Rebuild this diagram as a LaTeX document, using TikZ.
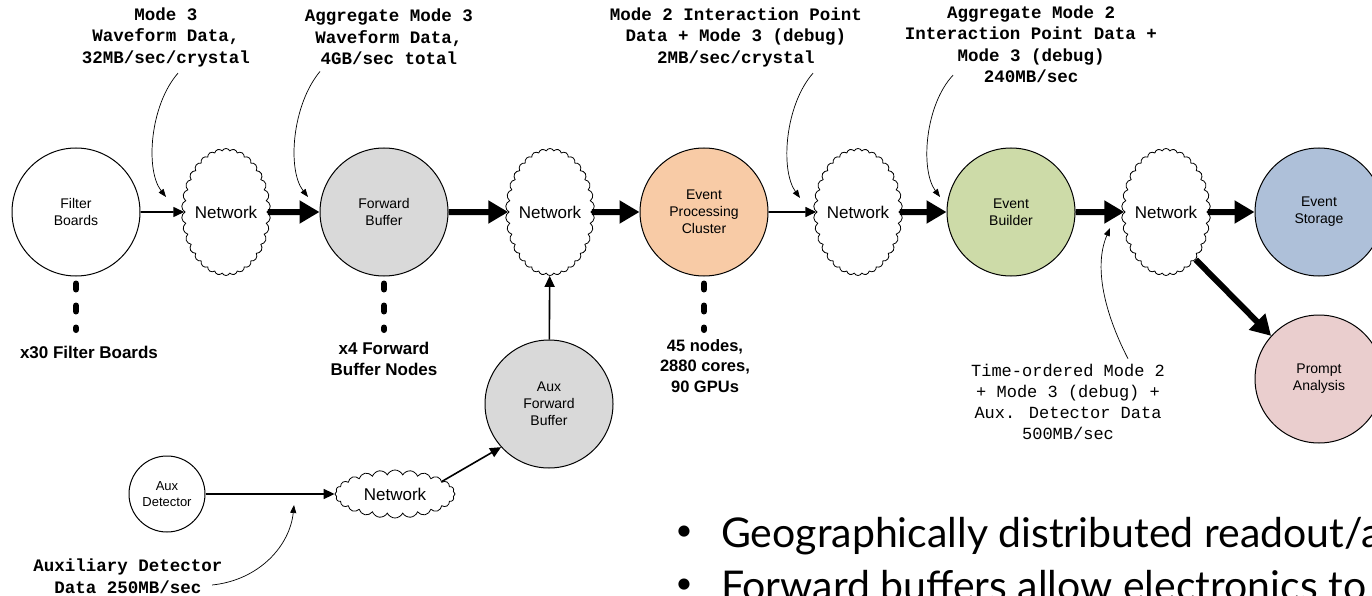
\documentclass[tikz,border=0pt]{standalone}
\usepackage{fontspec}
\setmainfont{Liberation Sans}
\newfontfamily\monof{Liberation Mono}
\newfontfamily\bulf{Lato}
\usetikzlibrary{shapes.symbols,arrows.meta}
\definecolor{fbgray}{RGB}{217,217,217}
\definecolor{epcpeach}{RGB}{248,203,166}
\definecolor{ebgreen}{RGB}{205,219,168}
\definecolor{esblue}{RGB}{174,192,217}
\definecolor{papink}{RGB}{234,206,206}
\tikzset{
  unit/.style={circle, draw, line width=1pt, minimum size=128pt, inner sep=0pt, align=center,
    font=\fontsize{14}{17}\selectfont},
  net/.style={cloud, draw, line width=0.8pt, cloud puffs=34, cloud puff arc=130, cloud ignores aspect,
    minimum width=86pt, minimum height=127pt, inner sep=0pt, font=\fontsize{17}{20}\selectfont},
  bigarrow/.style={line width=6pt, -{Triangle[length=20pt,width=22pt]}},
  thinarrow/.style={line width=1.6pt, -{Triangle[length=11pt,width=10pt]}},
  notearrow/.style={line width=0.7pt, -{Triangle[length=8pt,width=6pt]}},
  dots/.style={line width=6pt, dash pattern=on 6pt off 16pt, line cap=round},
  monolabel/.style={align=center, font=\monof\bfseries\fontsize{17.5}{21.5}\selectfont},
  boldlabel/.style={align=center, font=\bfseries\fontsize{17}{21}\selectfont},
}
\begin{document}
\begin{tikzpicture}[x=1pt,y=-1pt]
\clip (0,0) rectangle (1372,596);
\useasboundingbox (0,0) rectangle (1372,596);
\fill[white] (0,0) rectangle (1372,596);

% main chain
\node[unit] (filter) at (76,212) {Filter\\Boards};
\node[net] (net1) at (226,212) {Network};
\node[unit, fill=fbgray] (fwd) at (384,212) {Forward\\Buffer};
\node[net] (net2) at (550,212) {Network};
\node[unit, fill=epcpeach] (epc) at (704,212) {Event\\Processing\\Cluster};
\node[net] (net3) at (858,212) {Network};
\node[unit, fill=ebgreen] (eb) at (1011,212) {Event\\Builder};
\node[net] (net4) at (1166,212) {Network};
\node[unit, fill=esblue] (es) at (1319,212) {Event\\Storage};
\node[unit, fill=papink] (pa) at (1319,379) {Prompt\\Analysis};

% aux chain
\node[unit, fill=fbgray] (afb) at (549,404) {Aux\\Forward\\Buffer};
\node[unit, minimum size=76pt, font=\fontsize{13}{16}\selectfont] (auxdet) at (167,494) {Aux\\Detector};
\node[cloud, draw, line width=0.8pt, cloud puffs=24, cloud puff arc=130, cloud ignores aspect,
  minimum width=120pt, minimum height=48pt, inner sep=0pt, font=\fontsize{17}{20}\selectfont] (net5) at (395,494) {Network};

% connectors
\draw[thinarrow] (filter) -- (net1);
\draw[bigarrow] (net1) -- (fwd);
\draw[bigarrow] (fwd) -- (net2);
\draw[bigarrow] (net2) -- (epc);
\draw[thinarrow] (epc) -- (net3);
\draw[bigarrow] (net3) -- (eb);
\draw[bigarrow] (eb) -- (net4);
\draw[bigarrow] (net4) -- (es);
\draw[bigarrow] (net4.-58) -- (pa.138);
\draw[thinarrow] (afb) -- (net2);
\draw[thinarrow] (auxdet) -- (net5);
\draw[thinarrow] (net5.15) -- (afb.222);

% multiplicity dots
\coordinate (fdots) at (76,330);
\coordinate (bdots) at (384,330);
\coordinate (edots) at (704,330);
\draw[dots] ([yshift=-7pt]filter.south) -- (fdots);
\draw[dots] ([yshift=-7pt]fwd.south) -- (bdots);
\draw[dots] ([yshift=-7pt]epc.south) -- (edots);

\node[boldlabel] (fcount) at (89,352) {x30 Filter Boards};
\node[boldlabel] (bcount) at (384,359) {x4 Forward\\Buffer Nodes};
\node[boldlabel, font=\bfseries\fontsize{16.5}{20.5}\selectfont] (ecount) at (705,366) {45 nodes,\\2880 cores,\\90 GPUs};

% data-rate annotations
\node[monolabel] (l1) at (166,37) {Mode 3\\Waveform Data,\\32MB/sec/crystal};
\node[monolabel] (l2) at (389,37) {Aggregate Mode 3\\Waveform Data,\\4GB/sec total};
\node[monolabel] (l3) at (736,37) {Mode 2 Interaction Point\\Data + Mode 3 (debug)\\2MB/sec/crystal};
\node[monolabel] (l4) at (1031,44) {Aggregate Mode 2\\Interaction Point Data +\\Mode 3 (debug)\\240MB/sec};
\node[align=center, font=\monof\fontsize{17}{21}\selectfont] (l5) at (1068,402) {Time-ordered Mode 2\\+ Mode 3 (debug) +\\Aux. Detector Data\\500MB/sec};
\node[monolabel] (l6) at (128,576) {Auxiliary Detector\\Data 250MB/sec};

\coordinate (t1) at (166,197);
\coordinate (t2) at (308,197);
\coordinate (t3) at (800,198);
\coordinate (t4) at (940,197);
\coordinate (t5) at (1110,228);
\coordinate (t6) at (294,505);
\draw[notearrow] ([xshift=12pt,yshift=-3pt]l1.south) .. controls (150,105) and (145,170) .. (t1);
\draw[notearrow] ([xshift=-69pt,yshift=-3pt]l2.south) .. controls (292,105) and (287,170) .. (t2);
\draw[notearrow] ([xshift=77pt,yshift=-3pt]l3.south) .. controls (785,105) and (780,170) .. (t3);
\draw[notearrow] ([xshift=-78pt,yshift=11pt]l4.south) .. controls (925,105) and (920,170) .. (t4);
\draw[notearrow] ([xshift=60pt,yshift=2pt]l5.north) .. controls (1108,320) and (1092,270) .. (t5);
\draw[notearrow] ([xshift=-14pt,yshift=-9pt]l6.east) .. controls (260,580) and (290,545) .. (t6);

% bullets
\node[anchor=center, font=\bulf\fontsize{30}{30}\selectfont] (b1) at (684,533) {\textbullet};
\node[anchor=base west, inner sep=0pt, font=\bulf\fontsize{41}{41}\selectfont] (t1txt) at (721,547) {Geographically distributed readout/a};
\node[anchor=center, font=\bulf\fontsize{30}{30}\selectfont] (b2) at (684,586) {\textbullet};
\node[anchor=base west, inner sep=0pt, font=\bulf\fontsize{41}{41}\selectfont] (t2txt) at (721,600) {Forward buffers allow electronics to};
\end{tikzpicture}
\end{document}
